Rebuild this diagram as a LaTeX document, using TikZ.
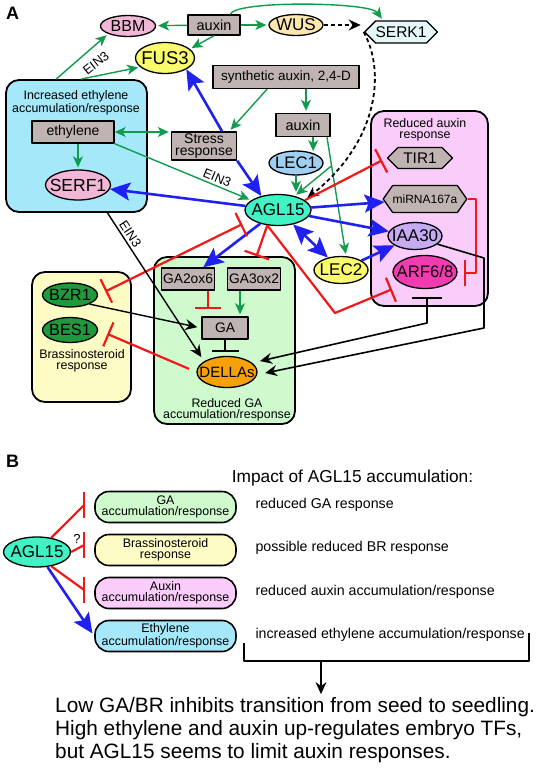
\documentclass[tikz,border=0pt]{standalone}
\usepackage{fontspec}
\setmainfont{Liberation Sans}
\usetikzlibrary{arrows.meta,shapes.geometric,shapes.symbols,calc}
\definecolor{pinkn}{RGB}{242,182,214}
\definecolor{wuscol}{RGB}{252,230,176}
\definecolor{serkcol}{RGB}{228,246,246}
\definecolor{yelcol}{RGB}{250,250,110}
\definecolor{boxgray}{RGB}{192,180,178}
\definecolor{ethcol}{RGB}{164,232,250}
\definecolor{auxcol}{RGB}{250,204,250}
\definecolor{gacol}{RGB}{206,250,206}
\definecolor{brcol}{RGB}{252,252,196}
\definecolor{aglcol}{RGB}{64,242,196}
\definecolor{lecacol}{RGB}{160,208,240}
\definecolor{iaacol}{RGB}{198,170,242}
\definecolor{arfcol}{RGB}{240,60,176}
\definecolor{dkgreen}{RGB}{32,152,60}
\definecolor{dellcol}{RGB}{246,160,10}
\definecolor{actgreen}{RGB}{16,156,76}
\definecolor{actblue}{RGB}{32,32,240}
\definecolor{inhred}{RGB}{240,24,24}
\newcommand{\fsz}[2]{\fontsize{#1}{#2}\selectfont}
\begin{document}
\begin{tikzpicture}[x=1pt,y=-1pt,line join=round,
  gtip/.tip={Stealth[length=11pt,width=10pt,inset=3pt]},
  btip/.tip={Stealth[length=20pt,width=18pt,inset=4pt]},
  ktip/.tip={Stealth[length=12pt,width=11pt,inset=4pt]},
  rtip/.tip={Bar[width=26pt]},
  ell/.style={ellipse,draw,line width=1.3pt,inner xsep=-7pt,inner ysep=0pt},
  gbox/.style={rectangle,draw,line width=1.5pt,fill=boxgray,inner sep=0pt},
  hexa/.style={signal,signal to=west and east,signal pointer angle=90,draw,line width=1.3pt,fill=boxgray,inner sep=0pt},
  area/.style={rectangle,draw,line width=1.8pt,rounded corners=13pt,inner sep=0pt},
  ttl/.style={align=center,inner sep=0pt,font=\fsz{12.4}{11}},
  pill/.style={rectangle,draw,line width=1.6pt,rounded corners=14pt,minimum width=141pt,minimum height=31pt,inner sep=0pt,align=center,font=\fsz{12.4}{11}},
  act/.style={draw=actgreen,line width=1.4pt,shorten >=2pt,-gtip},
  prom/.style={draw=actblue,line width=2.6pt,-btip},
  inh/.style={draw=inhred,line width=2.2pt,-rtip},
  blk/.style={draw=black,line width=1.4pt,-ktip},
  dsh/.style={blk,line width=1.8pt,dash pattern=on 4pt off 3pt}]
\useasboundingbox (0,0) rectangle (536,768);
\node[font=\fsz{18}{18}\bfseries] (labA) at (12.5,13) {A};
\node[area,fill=ethcol,minimum width=141pt,minimum height=132pt] (ethbox) at (76.5,146) {};
\node[area,fill=auxcol,minimum width=117pt,minimum height=195pt] (auxbox) at (429.5,208.5) {};
\node[area,fill=gacol,minimum width=141pt,minimum height=167pt] (gabox) at (224.5,340.5) {};
\node[area,fill=brcol,minimum width=99pt,minimum height=130pt] (brbox) at (81.5,337) {};
\node[ttl] (ethttl) at (76,103) {Increased ethylene\\accumulation/response};
\node[ttl] (auxttl) at (425,129.5) {Reduced auxin\\response};
\node[ttl] (gattl) at (227,409.5) {Reduced GA\\accumulation/response};
\node[ttl] (brttl) at (82,360.5) {Brassinosteroid\\response};
\node[ell,fill=pinkn,minimum width=55pt,minimum height=21pt,font=\fsz{16}{16}] (bbm) at (128,26) {BBM};
\node[gbox,minimum width=52pt,minimum height=20pt,font=\fsz{14.5}{14.5}] (auxA) at (214,25) {auxin};
\node[ell,fill=wuscol,minimum width=54pt,minimum height=21pt,font=\fsz{17}{17}] (wus) at (296,25) {WUS};
\node[hexa,fill=serkcol,minimum width=71pt,minimum height=22pt,font=\fsz{15.5}{15.5}] (serk) at (401,32) {SERK1};
\node[ell,fill=yelcol,minimum width=59pt,minimum height=31pt,font=\fsz{18.5}{18.5}] (fus) at (165,58) {FUS3};
\node[gbox,minimum width=146pt,minimum height=23pt,font=\fsz{13.5}{13.5}] (synth) at (286,77) {synthetic auxin, 2,4-D};
\node[gbox,minimum width=82pt,minimum height=22pt,font=\fsz{14}{14}] (eth) at (73,132) {ethylene};
\node[ell,fill=pinkn,minimum width=65pt,minimum height=30pt,font=\fsz{17.5}{17.5}] (serf) at (78,185) {SERF1};
\node[gbox,minimum width=65pt,minimum height=28pt,align=center,font=\fsz{14}{12.5}] (stress) at (204,146) {Stress\\response};
\node[gbox,minimum width=54pt,minimum height=23pt,font=\fsz{14.5}{14.5}] (auxB) at (303,125) {auxin};
\node[ell,fill=lecacol,minimum width=54pt,minimum height=24pt,font=\fsz{16.7}{16.7}] (lec1) at (296,163) {LEC1};
\node[ell,fill=aglcol,minimum width=66pt,minimum height=31pt,font=\fsz{17}{17}] (agl) at (278,210) {AGL15};
\node[hexa,minimum width=65pt,minimum height=21pt,font=\fsz{15.4}{15.4}] (tir) at (420,158) {TIR1};
\node[hexa,signal pointer angle=110,minimum width=83pt,minimum height=27pt,font=\fsz{12}{12}] (mir) at (425,199) {miRNA167a};
\node[ell,fill=iaacol,minimum width=54pt,minimum height=27pt,font=\fsz{17}{17}] (iaa) at (415,236) {IAA30};
\node[ell,fill=arfcol,minimum width=64pt,minimum height=33pt,font=\fsz{16.7}{16.7}] (arf) at (425,272) {ARF6/8};
\node[ell,fill=yelcol,minimum width=54pt,minimum height=27pt,font=\fsz{17}{17}] (lec2) at (341,270) {LEC2};
\node[gbox,minimum width=53pt,minimum height=22pt,font=\fsz{13.8}{13.8}] (ga2) at (188,279) {GA2ox6};
\node[gbox,minimum width=53pt,minimum height=22pt,font=\fsz{13.8}{13.8}] (ga3) at (254,279) {GA3ox2};
\node[gbox,minimum width=46pt,minimum height=22pt,font=\fsz{13.8}{13.8}] (ga) at (225,328) {GA};
\node[ell,fill=dellcol,minimum width=60pt,minimum height=31pt,font=\fsz{15}{15}] (dellas) at (227,372) {DELLAs};
\node[ell,fill=dkgreen,minimum width=55pt,minimum height=24pt,font=\fsz{16.3}{16.3}] (bzr) at (70,295) {BZR1};
\node[ell,fill=dkgreen,minimum width=55pt,minimum height=25pt,font=\fsz{16.3}{16.3}] (bes) at (70,330) {BES1};
\coordinate (arfbar) at (427,297);
\coordinate (arfdn) at (427,323);
\coordinate (iaart) at (484,258);
\coordinate (iaadn) at (484,328);
\coordinate (agldn) at (335,313);
\coordinate (mirrt) at (476,199);
\coordinate (mirdn) at (476,273);
\coordinate (mirbar) at (464,273);
\draw[act] (auxA) -- (bbm);
\draw[act] (auxA) -- (wus);
\draw[act] (auxA.south) -- (fus.20);
\draw[act] ([xshift=16pt]auxA.north) .. controls (236,0) and (370,2) .. ([xshift=-18pt]serk.north);
\draw[act] ([xshift=51pt]ethbox.north west) -- (bbm.south west);
\draw[act] ([xshift=76pt]ethbox.north west) -- (fus.200);
\node[rotate=38,font=\fsz{13}{13}] (einA) at (96,63) {EIN3};
\draw[act,gtip-gtip] (eth.east) -- (eth.east -| stress.west);
\draw[act] (eth.south -| serf.north) -- (serf.north);
\draw[act] (eth.south east) -- node[sloped,above=-1pt,pos=0.73,font=\fsz{13}{13}] (einB) {EIN3} (agl.160);
\draw[act] ([xshift=-19pt]synth.south) -- ([xshift=-8pt]stress.north east);
\draw[act] ([xshift=20pt]synth.south) -- ([xshift=20pt]synth.south |- auxB.north);
\draw[act] (auxB.south -| lec1.30) -- (lec1.30);
\draw[act] ([xshift=24pt]auxB.south) -- coordinate[pos=0.24] (brch) (lec2.70);
\draw[act] (brch) -- (agl.40);
\draw[act] (lec1.south) -- (lec1.south |- agl.north);
\draw[act] ([xshift=-14pt]ga3.south) -- ([xshift=-14pt]ga3.south |- ga.north);
\draw[dsh,shorten >=3pt] (wus.east) -- (wus.east -| serk.west);
\draw[dsh,shorten >=3pt] (serk.west) .. controls (385,70) and (380,140) .. (agl.20);
\draw[prom] ([xshift=18pt]stress.north) -- (fus.south east);
\draw[prom] (stress.south east) -- (agl.140);
\draw[prom] (agl) -- (serf);
\draw[prom] (agl) -- (ga2);
\draw[prom] (agl) -- (mir);
\draw[prom] (agl) -- (iaa.170);
\draw[prom,btip-btip] (agl) -- (lec2);
\draw[prom] (lec2) -- (iaa);
\draw[inh,shorten >=5pt] (agl.20) -- (tir.west);
\draw[inh,rtip-rtip,shorten <=10pt,shorten >=8pt] (agl.200) -- (bzr.east);
\draw[inh] (agl.-125) -- ([xshift=32pt]gabox.north);
\draw[inh,shorten >=12pt] (agl.-125) -- (agldn) -- (arf.210);
\draw[inh,shorten <=8pt,shorten >=10pt] (dellas.west) -- (bes.east);
\draw[inh,line width=1.6pt] (mir.east) -- (mirrt) -- (mirdn) -- (mirbar);
\draw[inh,shorten >=7pt] ([xshift=-17pt]ga.north |- ga2.south) -- ([xshift=-17pt]ga.north);
\draw[blk,-{Bar[width=27pt]},shorten >=4pt] (ga.south) -- (ga.south |- dellas.north);
\draw[blk,shorten >=4pt] (bzr.-25) -- (ga.west);
\draw[blk,shorten >=5pt] ([xshift=31pt]ethbox.south) -- node[sloped,above=-1pt,pos=0.17,font=\fsz{13}{13}] (einC) {EIN3} (dellas.155);
\draw[blk,line width=1.6pt,{Bar[width=30pt]}-ktip,shorten >=8pt] (arfbar) -- (arfdn) -- (dellas.20);
\draw[blk,line width=1.6pt,shorten >=8pt] (iaa.-20) -- (iaart) -- (iaadn) -- (dellas.-5);
\node[font=\fsz{18}{18}\bfseries] (labB) at (12.5,461) {B};
\node[font=\fsz{17.3}{17.3}] (impact) at (352.5,478) {Impact of AGL15 accumulation:};
\node[pill,fill=gacol] (gapill) at (165.5,507) {GA\\accumulation/response};
\node[pill,fill=brcol] (brpill) at (165.5,550) {Brassinosteroid\\response};
\node[pill,fill=auxcol] (auxpill) at (165.5,593) {Auxin\\accumulation/response};
\node[pill,fill=ethcol] (ethpill) at (165.5,636) {Ethylene\\accumulation/response};
\node[ell,fill=aglcol,minimum width=67pt,minimum height=30pt,font=\fsz{17}{17}] (aglb) at (37,552) {AGL15};
\draw[inh] (aglb.45) -- ([xshift=-10pt,yshift=2pt]gapill.west) -- ([xshift=-9pt,yshift=2pt]gapill.west);
\draw[inh] (aglb.east) -- ([xshift=-10pt,yshift=5pt]brpill.west) -- ([xshift=-9pt,yshift=5pt]brpill.west);
\draw[inh] (aglb.-45) -- ([xshift=-10pt,yshift=3pt]auxpill.west) -- ([xshift=-9pt,yshift=3pt]auxpill.west);
\draw[prom,shorten >=3pt] (aglb.-55) -- (ethpill.west);
\node[font=\fsz{13}{13}] (qm) at (77,539) {?};
\node[anchor=west,font=\fsz{14.2}{14.2}] (imga) at (252,505) {reduced GA response};
\node[anchor=west,font=\fsz{14.2}{14.2}] (imbr) at (252,548) {possible reduced BR response};
\node[anchor=west,font=\fsz{14.2}{14.2}] (imaux) at (252,592) {reduced auxin accumulation/response};
\node[anchor=west,font=\fsz{14.2}{14.2}] (imeth) at (252,635) {increased ethylene accumulation/response};
\node[anchor=west,align=left,inner sep=0pt,font=\fsz{20.8}{23}] (concl) at (55,730) {Low GA/BR inhibits transition from seed to seedling.\\High ethylene and auxin up-regulates embryo TFs,\\but AGL15 seems to limit auxin responses.};
\coordinate (brl) at (244,643);
\coordinate (brr) at (529,633);
\coordinate (brm) at (321,661);
\draw[line width=1.4pt] (brl) -- (brl |- brm) -- (brr |- brm) -- (brr);
\draw[blk,shorten >=3pt] (brm) -- (brm |- concl.north);
\end{tikzpicture}
\end{document}
